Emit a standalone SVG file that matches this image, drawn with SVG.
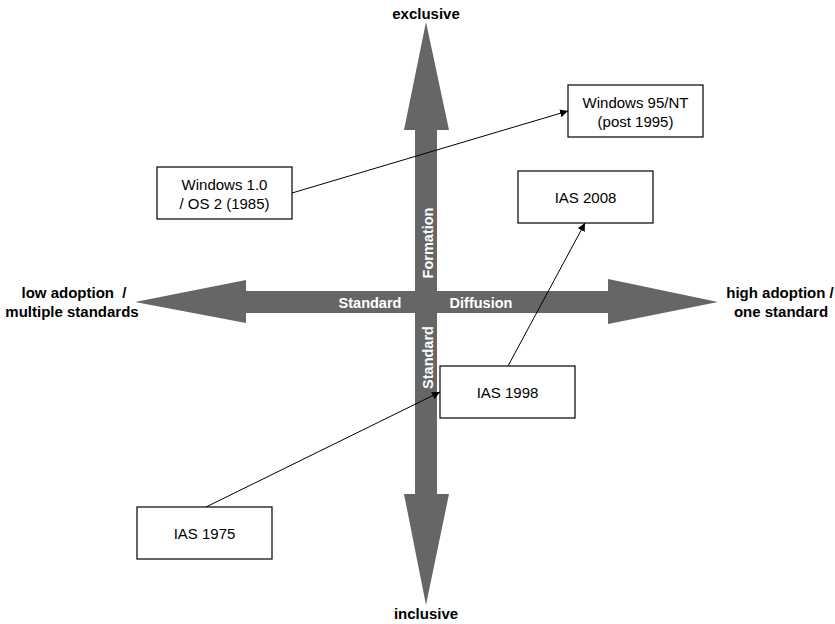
<svg xmlns="http://www.w3.org/2000/svg" width="835" height="624" viewBox="0 0 835 624">
<style>
.ax{fill:#666666;stroke:none}
.axl{font-family:"Liberation Sans",Arial,sans-serif;font-size:14.5px;font-weight:bold;fill:#ffffff;text-anchor:middle}
.pole{font-family:"Liberation Sans",Arial,sans-serif;font-size:15px;font-weight:bold;fill:#000000;text-anchor:middle}
.box{fill:#ffffff;stroke:#000000;stroke-width:1.2}
.bt{font-family:"Liberation Sans",Arial,sans-serif;font-size:15px;fill:#000000;text-anchor:middle}
.con{stroke:#000000;stroke-width:1;fill:none;marker-end:url(#ah)}
</style>
<defs>
<marker id="ah" viewBox="0 0 10 10" refX="10" refY="5" markerWidth="8" markerHeight="8" markerUnits="userSpaceOnUse" orient="auto">
<path d="M0,0 L10,5 L0,10 z" fill="#000000"/>
</marker>
</defs>
<rect width="835" height="624" fill="#ffffff"/>
<g id="axes">
<polygon class="ax" points="426,22 449,130 437,130 437,494 449,494 426,605 404,494 415,494 415,130 404,130"/>
<polygon class="ax" points="135,302 246,280 246,291 608,291 608,279 718,302 608,324 608,313 246,313 246,323"/>
<text class="axl" x="370" y="307.5">Standard</text>
<text class="axl" x="481" y="307.5">Diffusion</text>
<text class="axl" transform="translate(432.5,243) rotate(-90)">Formation</text>
<text class="axl" transform="translate(432.5,357.5) rotate(-90)">Standard</text>
</g>
<g id="poles">
<text class="pole" x="426" y="19">exclusive</text>
<text class="pole" x="426" y="619">inclusive</text>
<text class="pole" x="74" y="298" xml:space="preserve">low adoption  /</text>
<text class="pole" x="72" y="317">multiple standards</text>
<text class="pole" x="780" y="298">high adoption /</text>
<text class="pole" x="781" y="317">one standard</text>
</g>
<g id="connectors">
<line class="con" x1="292" y1="193" x2="568" y2="111"/>
<line class="con" x1="206" y1="507" x2="440" y2="392"/>
<line class="con" x1="508" y1="366" x2="585" y2="223"/>
</g>
<g id="win95">
<rect class="box" x="568" y="85" width="135" height="52"/>
<text class="bt" x="635.5" y="108">Windows 95/NT</text>
<text class="bt" x="635.5" y="127">(post 1995)</text>
</g>
<g id="win10">
<rect class="box" x="157" y="167" width="135" height="52"/>
<text class="bt" x="224.5" y="190">Windows 1.0</text>
<text class="bt" x="224.5" y="209">/ OS 2 (1985)</text>
</g>
<g id="ias2008">
<rect class="box" x="518" y="171" width="135" height="52"/>
<text class="bt" x="585.5" y="203">IAS 2008</text>
</g>
<g id="ias1998">
<rect class="box" x="440" y="366" width="135" height="52"/>
<text class="bt" x="507.5" y="398">IAS 1998</text>
</g>
<g id="ias1975">
<rect class="box" x="137" y="507" width="135" height="52"/>
<text class="bt" x="204.5" y="539">IAS 1975</text>
</g>
</svg>
